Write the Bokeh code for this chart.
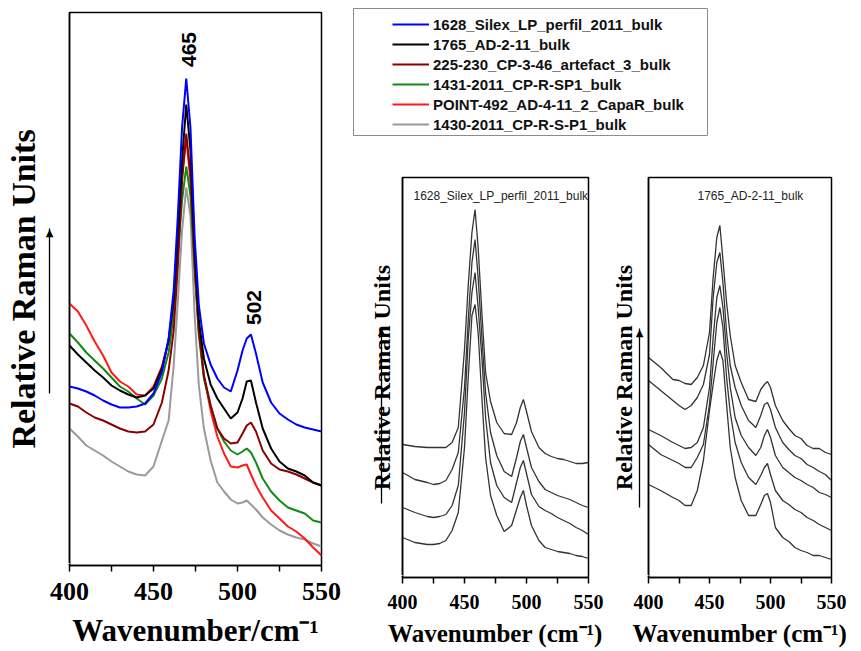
import math
from bokeh.plotting import figure
from bokeh.models import Range1d, FixedTicker, Label, Legend, LegendItem, LinearAxis
from bokeh.layouts import row, column
from bokeh.embed import file_html
from bokeh.resources import INLINE

# ---------------- data ----------------
# Left panel: six bulk spectra, wavenumber (cm-1) vs relative intensity (arbitrary units)
WN_MAIN = [400, 405, 410, 415, 420, 425, 430, 435, 440, 445, 450,
           455, 459, 462, 464.5, 467, 469.5, 472, 474.5, 477, 480,
           484, 488, 492, 496, 500, 503, 505.5, 508, 511, 515,
           520, 525, 530, 535, 540, 545, 550]

SILEX_1628 = [179, 177, 174, 170, 165, 161, 158, 158, 159, 162, 172,
              193, 227, 275, 350, 438, 487, 438, 328, 260, 222,
              201, 187, 178, 174, 195, 215, 227, 231, 212, 183,
              163, 152, 146, 141, 138, 136, 134]
AD_1765 = [220, 211, 203, 195, 188, 180, 175, 171, 168, 170, 177,
           197, 225, 265, 330, 405, 461, 415, 315, 245, 207,
           181, 167, 157, 147, 153, 167, 184, 185, 163, 137,
           117, 104, 97, 94, 90, 83, 80]
CP_225_230 = [162, 159, 153, 148, 145, 141, 137, 134, 133, 134, 141,
              163, 195, 235, 300, 385, 432, 390, 300, 235, 190,
              160, 137, 127, 122, 123, 132, 140, 143, 134, 115,
              102, 96, 94, 91, 87, 83, 80]
CP_1431 = [232, 223, 213, 205, 197, 188, 179, 174, 167, 161, 170,
           187, 213, 250, 310, 365, 399, 370, 295, 230, 187,
           160, 137, 124, 115, 111, 114, 117, 113, 103, 87,
           74, 65, 58, 55, 52, 45, 43]
POINT_492 = [262, 254, 240, 224, 210, 193, 184, 179, 171, 170, 179,
             199, 225, 265, 325, 390, 427, 385, 300, 235, 190,
             155, 129, 112, 99, 98, 100, 101, 91, 80, 68,
             55, 47, 39, 34, 27, 18, 10]
CP_1430 = [137, 129, 120, 115, 110, 104, 99, 94, 91, 90, 99,
           125, 145, 200, 265, 335, 378, 350, 250, 180, 137,
           105, 83, 74, 66, 62, 63, 65, 61, 56, 48,
           41, 35, 31, 28, 26, 22, 19]

SERIES_NAMES = ["1628_Silex_LP_perfil_2011_bulk", "1765_AD-2-11_bulk",
                "225-230_CP-3-46_artefact_3_bulk", "1431-2011_CP-R-SP1_bulk",
                "POINT-492_AD-4-11_2_CapaR_bulk", "1430-2011_CP-R-S-P1_bulk"]
SERIES_VALUES = [SILEX_1628, AD_1765, CP_225_230, CP_1431, POINT_492, CP_1430]
SERIES_COLORS = ["#0000ff", "#000000", "#8b0000", "#138a13", "#ff1a1a", "#9a9a9a"]

PEAK_LABELS = ["465", "502"]

# Small panels: stacked spectra of two samples
WN_SMALL = [400, 410, 420, 425, 430, 435, 440, 445, 450,
            453, 456, 458.5, 461, 464, 467, 471, 476,
            482, 488, 492, 495, 497.5, 500, 504,
            510, 515, 520, 525, 530, 535, 540, 545, 550]

SILEX_SPOT_1 = [133, 131, 130, 130, 130, 130, 135, 150, 228,
                292, 345, 368, 330, 265, 205, 176, 155,
                144, 143, 155, 170, 178, 166, 146,
                130, 124, 121, 119, 118, 116, 114, 114, 115]
SILEX_SPOT_2 = [105, 98, 95, 93, 94, 97, 108, 125, 190,
                257, 315, 338, 300, 240, 185, 145, 122,
                106, 101, 120, 136, 143, 130, 110,
                96, 88, 85, 82, 80, 78, 75, 72, 70]
SILEX_SPOT_3 = [70, 65, 61, 60, 61, 63, 72, 92, 165,
                238, 285, 305, 270, 220, 160, 115, 92,
                80, 75, 95, 110, 117, 104, 83,
                71, 67, 64, 60, 57, 54, 50, 47, 43]
SILEX_SPOT_4 = [40, 35, 33, 33, 34, 37, 47, 65, 130,
                200, 262, 273, 245, 180, 120, 82, 62,
                46, 52, 68, 80, 87, 72, 52,
                37, 30, 28, 26, 25, 24, 22, 21, 19]

AD_SPOT_1 = [220, 210, 198, 197, 194, 193, 200, 212, 245,
             300, 340, 352, 318, 275, 242, 212, 195,
             178, 176, 188, 193, 196, 190, 172,
             157, 149, 142, 139, 132, 129, 129, 125, 123]
AD_SPOT_2 = [197, 187, 177, 172, 168, 172, 180, 193, 223,
             280, 315, 325, 295, 245, 212, 190, 172,
             157, 150, 162, 173, 175, 168, 150,
             135, 128, 122, 119, 113, 110, 106, 103, 97]
AD_SPOT_3 = [148, 142, 135, 132, 129, 130, 135, 150, 190,
             240, 280, 292, 270, 225, 190, 160, 142,
             130, 122, 130, 142, 148, 140, 122,
             110, 105, 100, 97, 93, 90, 85, 83, 80]
AD_SPOT_4 = [133, 123, 117, 114, 110, 110, 120, 133, 173,
             215, 255, 270, 250, 200, 165, 135, 115,
             100, 93, 102, 110, 114, 103, 87,
             77, 73, 68, 65, 60, 57, 53, 50, 47]
AD_SPOT_5 = [93, 87, 80, 77, 72, 72, 87, 117, 167,
             193, 217, 227, 217, 173, 130, 100, 77,
             62, 62, 73, 82, 84, 75, 50,
             40, 36, 30, 27, 25, 22, 22, 20, 18]

X_MAJOR = [400, 450, 500, 550]
X_MINOR = [425, 475, 525]
Y_LABEL = "Relative Raman Units"

SERIF = "Liberation Serif"
SANS = "Liberation Sans"


def style(p, tick_size, label_size, xlabel_standoff, tick_standoff, arrow_gap):
    p.grid.visible = False
    p.outline_line_color = "black"
    p.outline_line_width = 1.5
    p.background_fill_color = "white"
    p.border_fill_color = "white"
    xa = p.xaxis[0]
    xa.ticker = FixedTicker(ticks=X_MAJOR, minor_ticks=X_MINOR)
    xa.major_tick_in = 0
    xa.major_tick_out = 6
    xa.minor_tick_in = 0
    xa.minor_tick_out = 6
    xa.axis_line_width = 1.5
    xa.major_tick_line_width = 1.5
    xa.minor_tick_line_width = 1.5
    xa.major_label_standoff = tick_standoff
    xa.major_label_text_font = SERIF
    xa.major_label_text_font_style = "bold"
    xa.major_label_text_font_size = tick_size
    xa.major_label_text_color = "black"
    xa.axis_label_text_font = SERIF
    xa.axis_label_text_font_style = "bold"
    xa.axis_label_text_font_size = label_size
    xa.axis_label_text_color = "black"
    xa.axis_label_standoff = xlabel_standoff
    # inner y axis: only the frame line; one blank white tick reserves the gap to the arrow
    ya = p.yaxis[0]
    ya.ticker = FixedTicker(ticks=[2], minor_ticks=[])
    ya.major_label_overrides = {2: ""}
    ya.major_tick_in = 0
    ya.major_tick_out = arrow_gap
    ya.major_tick_line_color = "white"
    ya.major_tick_line_width = 1
    ya.minor_tick_in = 0
    ya.minor_tick_out = 0
    ya.major_label_standoff = 0
    ya.major_label_text_font_size = "0px"
    ya.axis_line_width = 1.5


def arrow_axis(p, y0, y1, label_size, label_standoff):
    """Outer y axis: its bounded line is the 'intensity' arrow, and it carries the label."""
    head = y1 - 4
    ax = LinearAxis(bounds=(y0, y1), ticker=FixedTicker(ticks=[head], minor_ticks=[]),
                    major_label_overrides={head: "\u25b2"},
                    major_tick_in=0, major_tick_out=0, minor_tick_in=0, minor_tick_out=0,
                    major_label_standoff=-4, major_label_text_font="DejaVu Sans",
                    major_label_text_font_size="10px", major_label_text_color="black",
                    axis_line_width=1.3, axis_line_color="black",
                    axis_label=Y_LABEL, axis_label_standoff=label_standoff,
                    axis_label_text_font=SERIF, axis_label_text_font_style="bold",
                    axis_label_text_font_size=label_size, axis_label_text_color="black")
    p.add_layout(ax, "left")


# ---------------- left panel ----------------
left = figure(width=348, height=651, x_range=Range1d(400, 550), y_range=Range1d(0, 553),
              output_backend="svg", toolbar_location=None,
              min_border_left=69, min_border_right=27, min_border_top=12, min_border_bottom=86,
              x_axis_label="Wavenumber/cm\u207b\u00b9")
style(left, "26px", "31px", 10, 11, 20)
arrow_axis(left, 172, 337, "34px", 1)
for vals, col in reversed(list(zip(SERIES_VALUES, SERIES_COLORS))):
    left.line(x=WN_MAIN, y=vals, line_color=col, line_width=2)
left.add_layout(Label(x=471, y=516, text=PEAK_LABELS[0], angle=math.pi / 2,
                      text_align="center", text_baseline="middle", text_font=SANS,
                      text_font_style="bold", text_font_size="21px", text_color="black"))
left.add_layout(Label(x=510, y=258, text=PEAK_LABELS[1], angle=math.pi / 2,
                      text_align="center", text_baseline="middle", text_font=SANS,
                      text_font_style="bold", text_font_size="21px", text_color="black"))

# ---------------- legend box ----------------
leg = figure(width=507, height=156, x_range=Range1d(0, 1), y_range=Range1d(0, 1),
             x_axis_type=None, y_axis_type=None, output_backend="svg", toolbar_location=None,
             min_border_left=5, min_border_right=148, min_border_top=8, min_border_bottom=21)
leg.grid.visible = False
leg.outline_line_color = "#8c8c8c"
leg.outline_line_width = 1
items = []
for name, vals, col in zip(SERIES_NAMES, SERIES_VALUES, SERIES_COLORS):
    # same spectra, but outside this box's ranges: only the legend sample shows
    r = leg.line(x=WN_MAIN, y=vals, line_color=col, line_width=2)
    items.append(LegendItem(label=name, renderers=[r]))
legend = Legend(items=items, location=(39, 1), padding=0, margin=0, spacing=0,
                glyph_width=37, glyph_height=20, label_height=20, label_standoff=4,
                border_line_color=None, background_fill_alpha=0,
                label_text_font=SANS, label_text_font_style="bold",
                label_text_font_size="15px", label_text_color="#111111")
leg.add_layout(legend)


# ---------------- small panels ----------------
def small_panel(width, border_left, border_right, title, title_x, spectra,
                arrow_gap, arrow_y0, arrow_y1, label_standoff):
    p = figure(width=width, height=495, x_range=Range1d(400, 550), y_range=Range1d(0, 400),
               output_backend="svg", toolbar_location=None,
               min_border_left=border_left, min_border_right=border_right,
               min_border_top=21, min_border_bottom=74,
               x_axis_label="Wavenumber (cm\u207b\u00b9)")
    style(p, "20px", "25px", 8, 11, arrow_gap)
    arrow_axis(p, arrow_y0, arrow_y1, "24px", label_standoff)
    for vals in spectra:
        p.line(x=WN_SMALL, y=vals, line_color="#333333", line_width=1.3)
    p.add_layout(Label(x=title_x, y=382, x_units="screen", y_units="screen", text=title,
                       text_baseline="middle", text_font=SANS, text_font_size="12px",
                       text_color="#222222"))
    return p


mid = small_panel(259, 54, 19, SERIES_NAMES[0], 11,
                  [SILEX_SPOT_1, SILEX_SPOT_2, SILEX_SPOT_3, SILEX_SPOT_4],
                  21, 74, 250, -20)
rt = small_panel(248, 41, 24, SERIES_NAMES[1], 49,
                 [AD_SPOT_1, AD_SPOT_2, AD_SPOT_3, AD_SPOT_4, AD_SPOT_5],
                 9, 70, 249, -4)

layout = row(left, column(leg, row(mid, rt)))
open("out.html", "w").write(file_html(layout, INLINE))
